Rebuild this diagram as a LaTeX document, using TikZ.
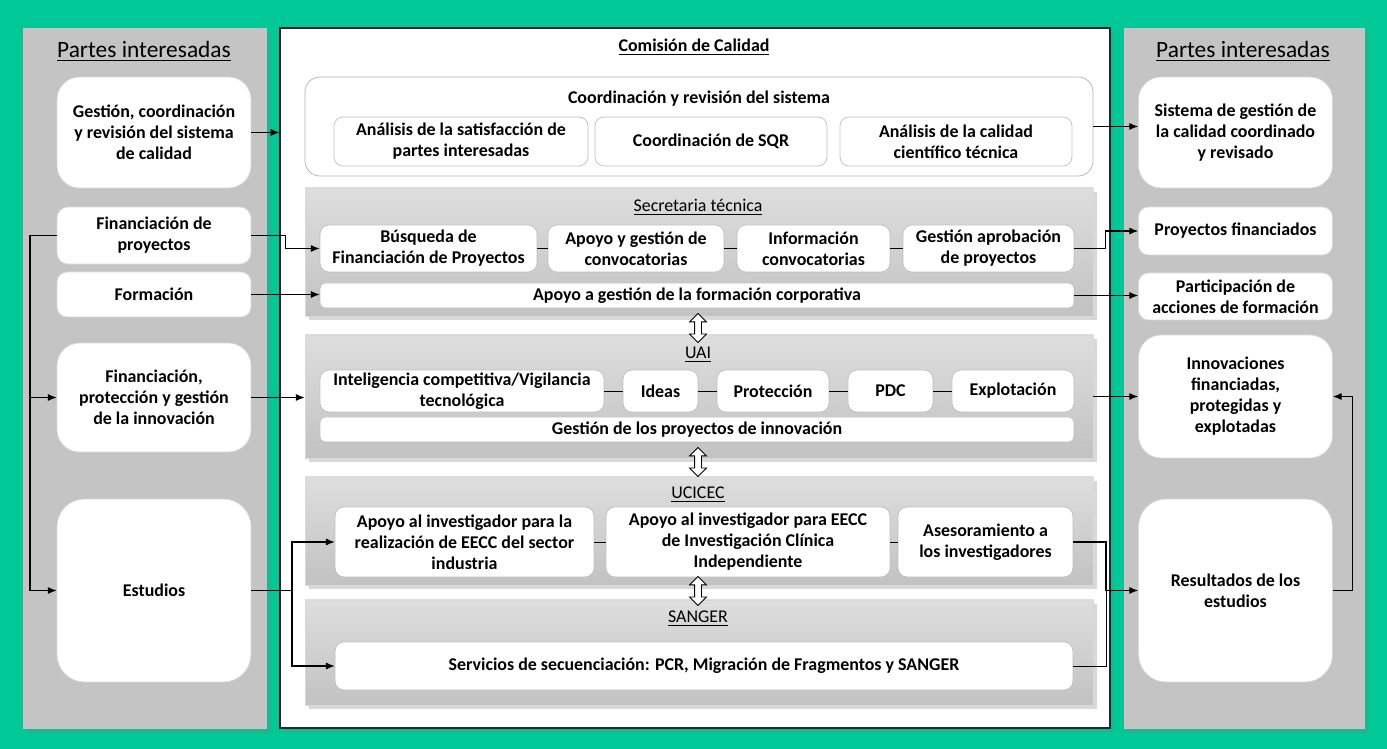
\documentclass[tikz,border=0pt]{standalone}
\usepackage{fontspec}
\setmainfont{Carlito}
\usetikzlibrary{fit,shadows,shapes.arrows,arrows.meta}

\definecolor{fondo}{RGB}{0,201,151}
\newcommand{\bxt}{\fontsize{10.2}{12}\selectfont\bfseries}

\begin{document}
\begin{tikzpicture}[x=0.02cm, y=-0.02cm,
  sombra/.style={drop shadow={shadow xshift=2pt, shadow yshift=-2pt, opacity=0.3}},
  panel/.style={fill=black!23, inner sep=0pt, sombra},
  unidad/.style={top color=black!13, bottom color=black!24, draw=black!15, inner sep=0pt, sombra},
  caja/.style={fill=white, draw=black!15, rounded corners=0.45cm, inner sep=0pt, align=center, font=\bxt, minimum width=3.88cm},
  cajita/.style={fill=white, draw=black!25, rounded corners=0.18cm, inner sep=0pt, align=center, font=\bxt},
  titulo/.style={font=\fontsize{10.2}{12}\selectfont},
  flecha/.style={-{Latex[length=5pt,width=4pt]}, line width=0.6pt},
  enlace/.style={line width=0.5pt},
  doble/.style={double arrow, draw, fill=white, line width=0.5pt, shape border rotate=90,
    inner sep=0.06cm, double arrow head extend=0.1cm, minimum width=0.32cm, minimum height=0.58cm}
]
% fondo
\fill[fondo] (0,0) rectangle (1387,749);

% paneles
\node[panel, fit={(23,28) (267,729)}] (izq) {};
\node[panel, fit={(1124,28) (1365,729)}] (der) {};
\node[fill=white, draw=black!85, line width=0.6pt, inner sep=0pt, sombra, fit={(280,28) (1110,728)}] (com) {};

\node[font=\fontsize{13.3}{15}\selectfont] (tizq) at (144,51) {\underline{Partes interesadas}};
\node[font=\fontsize{13.3}{15}\selectfont] (tder) at (1243,51) {\underline{Partes interesadas}};
\node[font=\bxt] (tcom) at (694,47) {\underline{Comisión de Calidad}};

% partes interesadas (entrada)
\node[caja, minimum height=2.22cm] (gest) at (154,132.5) {Gestión, coordinación\\ y revisión del sistema\\ de calidad};
\node[caja, rounded corners=0.22cm, minimum height=1.14cm] (finp) at (154,235.5) {Financiación de\\ proyectos};
\node[caja, rounded corners=0.2cm, minimum height=0.9cm] (form) at (154,294.5) {Formación};
\node[caja, minimum height=2.18cm] (innov) at (154,397.5) {Financiación,\\ protección y gestión\\ de la innovación};
\node[caja, rounded corners=0.55cm, minimum height=3.66cm] (estu) at (154,590.5) {Estudios};

% partes interesadas (salida)
\node[caja, minimum height=2.22cm] (rsis) at (1235.5,132.5) {Sistema de gestión de\\ la calidad coordinado\\ y revisado};
\node[caja, rounded corners=0.2cm, minimum height=0.96cm] (rpfin) at (1235.5,231) {Proyectos financiados};
\node[caja, rounded corners=0.2cm, minimum height=0.94cm] (rpart) at (1235.5,296.5) {Participación de\\ acciones de formación};
\node[caja, minimum height=2.46cm] (rinn) at (1235.5,396.5) {Innovaciones\\ financiadas,\\ protegidas y\\ explotadas};
\node[caja, rounded corners=0.55cm, minimum height=3.66cm] (rres) at (1235.5,590.5) {Resultados de los\\ estudios};

% coordinacion
\node[cajita, draw=black!30, rounded corners=0.3cm, fit={(305,77) (1093,176)}] (coord) {};
\node[font=\bxt] (tcoord) at (699,99) {Coordinación y revisión del sistema};
\begin{scope}[every node/.append style={minimum height=0.98cm}]
  \node[cajita, minimum width=5.08cm] (sat) at (461,141.5) {Análisis de la satisfacción de\\ partes interesadas};
  \node[cajita, minimum width=4.64cm] (sqr) at (711,141.5) {Coordinación de SQR};
  \node[cajita, minimum width=4.64cm] (cal) at (956,141.5) {Análisis de la calidad\\ científico técnica};
\end{scope}

% secretaria tecnica
\node[unidad, fit={(305,188) (1093,316)}] (sec) {};
\node[titulo] (tsec) at (698,207) {\underline{Secretaria técnica}};
\begin{scope}[every node/.append style={minimum height=0.94cm}]
  \node[cajita, minimum width=4.34cm] (busq) at (428.5,248.5) {Búsqueda de\\ Financiación de Proyectos};
  \node[cajita, minimum width=3.52cm] (apc) at (636,248.5) {Apoyo y gestión de\\ convocatorias};
  \node[cajita, minimum width=3.06cm] (infc) at (813.5,248.5) {Información\\ convocatorias};
  \node[cajita, minimum width=3.42cm] (gapr) at (988.5,248.5) {Gestión aprobación\\ de proyectos};
\end{scope}
\node[cajita, rounded corners=0.1cm, minimum width=15.08cm, minimum height=0.5cm] (apf) at (697,295.5) {Apoyo a gestión de la formación corporativa};

% UAI
\node[unidad, fit={(305,335) (1093,458)}] (uai) {};
\node[titulo] (tuai) at (698,355) {\underline{UAI}};
\begin{scope}[every node/.append style={minimum height=0.84cm}]
  \node[cajita, minimum width=5.68cm] (intel) at (462,391) {Inteligencia competitiva/Vigilancia\\ tecnológica};
  \node[cajita, minimum width=1.5cm] (ideas) at (660.5,391) {Ideas};
  \node[cajita, minimum width=2.24cm] (prot) at (773,391) {Protección};
  \node[cajita, minimum width=1.7cm] (pdc) at (890.5,391) {PDC};
  \node[cajita, minimum width=2.44cm] (expl) at (1013,391) {Explotación};
\end{scope}
\node[cajita, rounded corners=0.1cm, minimum width=15.08cm, minimum height=0.5cm] (gpi) at (697,429.5) {Gestión de los proyectos de innovación};

% UCICEC
\node[unidad, fit={(305,477) (1093,585)}] (uci) {};
\node[titulo] (tuci) at (698,495) {\underline{UCICEC}};
\begin{scope}[every node/.append style={minimum height=1.4cm}]
  \node[cajita, minimum width=5.18cm] (ind) at (464.5,542) {Apoyo al investigador para la\\ realización de EECC del sector\\ industria};
  \node[cajita, minimum width=5.68cm] (indep) at (748,542) {Apoyo al investigador para EECC\\ de Investigación Clínica\\ Independiente};
  \node[cajita, minimum width=3.5cm] (ases) at (985.5,542) {Asesoramiento a\\ los investigadores};
\end{scope}

% SANGER
\node[unidad, fit={(305,600) (1093,705)}] (san) {};
\node[titulo] (tsan) at (698,619) {\underline{SANGER}};
\node[cajita, minimum width=14.76cm, minimum height=0.96cm] (seq) at (704,666) {Servicios de secuenciación: PCR, Migración de Fragmentos y SANGER};

% flechas dobles
\node[doble] (d1) at (698,328) {};
\node[doble] (d2) at (698,462) {};
\node[doble] (d3) at (698,591) {};

% enlaces internos
\draw[enlace] (busq) -- (apc);
\draw[enlace] (apc) -- (infc);
\draw[enlace] (infc) -- (gapr);
\draw[enlace] (intel) -- (ideas);
\draw[enlace] (ideas) -- (prot);
\draw[enlace] (prot) -- (pdc);
\draw[enlace] (pdc) -- (expl);
\draw[enlace] (ind) -- (indep);
\draw[enlace] (indep) -- (ases);

% entradas
\coordinate (lbus) at (30,0);
\coordinate (ebus) at (292,0);
\coordinate (rbus) at (1106,0);
\draw[flecha] (gest.east) -- (gest.east -| com.west);
\draw[flecha] (finp.east) -- ++(34,0) |- (busq.west);
\draw[flecha] (finp.west) -- (finp.west -| lbus) |- (estu.west);
\draw[flecha] (innov.west -| lbus) -- (innov.west);
\draw[flecha] (form.east) -- (form.east -| apf.west);
\draw[flecha] (innov.east) -- (innov.east -| uai.west);
\draw[flecha] (estu.east) -- (estu.east -| ebus) |- (ind.west);
\draw[flecha] (estu.east -| ebus) |- (seq.west);

% salidas
\draw[flecha] (coord.east) -- (coord.east -| rsis.west);
\draw[flecha] (gapr.east) -- ++(31,0) |- (rpfin.west);
\draw[flecha] (apf.east) -- (apf.east -| rpart.west);
\draw[flecha] (rinn.west -| uai.east) -- (rinn.west);
\draw[flecha] (ases.east) -| (rbus |- rres.west) -- (rres.west);
\draw[enlace] (seq.east) -| (rbus |- rres.west);
\draw[flecha] (rres.east) -- ++(20,0) |- (rinn.east);
%\draw[flecha] (rsis.south) -- (rpfin.north);
\end{tikzpicture}
\end{document}
